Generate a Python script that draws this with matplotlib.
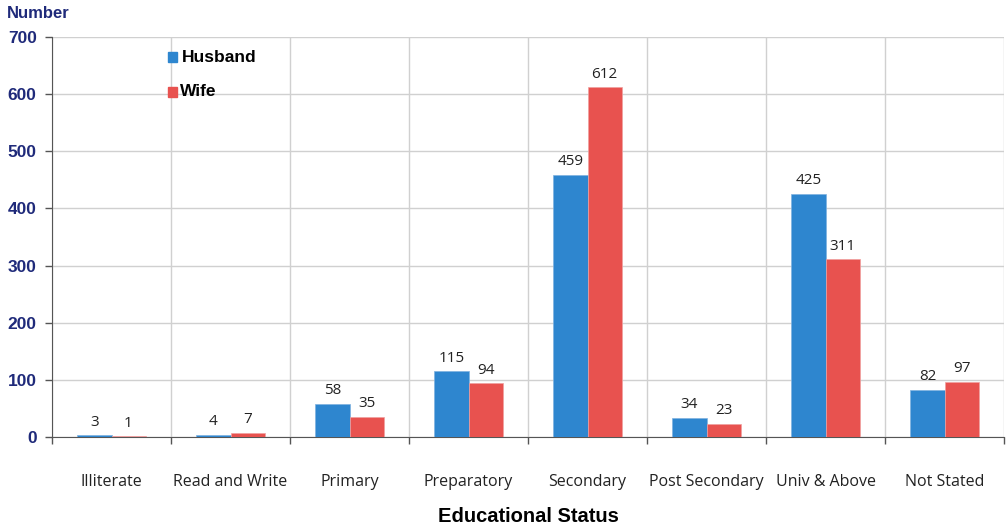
import matplotlib
matplotlib.use("Agg")
import matplotlib.pyplot as plt
import numpy as np

categories = ["Illiterate", "Read and Write", "Primary", "Preparatory", "Secondary",
              "Post Secondary", "Univ & Above", "Not Stated"]
husband = [3, 4, 58, 115, 459, 34, 425, 82]
wife = [1, 7, 35, 94, 612, 23, 311, 97]
yticks = [0, 100, 200, 300, 400, 500, 600, 700]

blue = "#2e86cf"
red = "#e8524f"
navy = "#1f2a7a"

fig = plt.figure(figsize=(10.07, 5.26), dpi=100)
ax = fig.add_axes([52/1007, 89/526, 952/1007, 400/526])

x = np.arange(len(categories))
w = 0.286
ax.bar(x - w/2, husband, w, color=blue, edgecolor="#7fb2e0", linewidth=0.5, zorder=3)
ax.bar(x + w/2, wife, w, color=red, edgecolor="#f0a0a0", linewidth=0.5, zorder=3)

for xi, h, wv in zip(x, husband, wife):
    ax.text(xi - w/2, h + 10, str(h), ha="center", va="bottom", fontsize=11,
            family="Open Sans", color="#222222")
    ax.text(xi + w/2, wv + 10, str(wv), ha="center", va="bottom", fontsize=11,
            family="Open Sans", color="#222222")

ax.set_xlim(-0.5, len(categories) - 0.5)
ax.set_ylim(0, 700)
ax.set_yticks(yticks)
ax.set_yticklabels([str(t) for t in yticks], fontsize=12.5, fontweight="bold",
                   color=navy, family="Liberation Sans")
ax.set_xticks(x)
ax.set_xticklabels(categories, fontsize=11.5, family="Open Sans", color="#222222")
ax.tick_params(axis="x", length=0, pad=27)
ax.tick_params(axis="y", length=5, color="#555555", width=1, pad=6)

# vertical boundary ticks + grid
ax.set_xticks(np.arange(len(categories) + 1) - 0.5, minor=True)
ax.tick_params(axis="x", which="minor", length=5, color="#555555", width=1)
ax.grid(True, which="minor", axis="x", color="#d0d0d0", linewidth=1, zorder=0)
ax.grid(True, which="major", axis="y", color="#d0d0d0", linewidth=1, zorder=0)

for s in ["top", "right"]:
    ax.spines[s].set_visible(False)
ax.spines["left"].set_color("#555555")
ax.spines["bottom"].set_color("#555555")

ax.set_xlabel("Educational Status", fontsize=14.5, fontweight="bold",
              family="Liberation Sans", labelpad=12)
fig.text(7/1007, 1 - 14/526, "Number", fontsize=12, fontweight="bold",
         color=navy, family="Liberation Sans", va="center", ha="left")

# legend
fig.patches.append(plt.Rectangle((168/1007, 1 - 62/526), 9/1007, 10/526,
                                 transform=fig.transFigure, color=blue, figure=fig))
fig.text(182/1007, 1 - 57/526, "Husband", fontsize=12.5, fontweight="bold",
         family="Liberation Sans", va="center", ha="left")
fig.patches.append(plt.Rectangle((168/1007, 1 - 97/526), 9/1007, 10/526,
                                 transform=fig.transFigure, color=red, figure=fig))
fig.text(180/1007, 1 - 92/526, "Wife", fontsize=12.5, fontweight="bold",
         family="Liberation Sans", va="center", ha="left")

fig.savefig("out.png", dpi=100)
